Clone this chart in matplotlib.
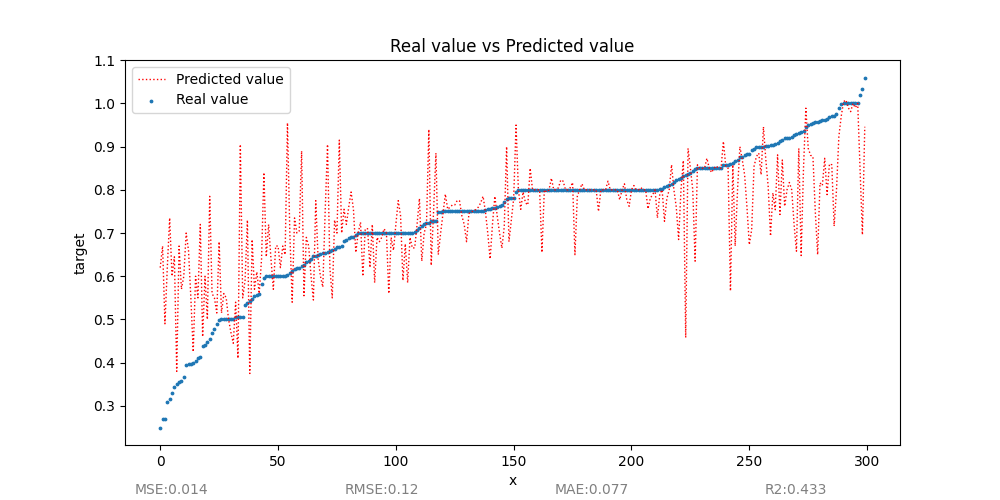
import numpy as np
import matplotlib
matplotlib.use('Agg')
import matplotlib.pyplot as plt

# valores reales (ordenados)
real_value = [
    0.25, 0.27, 0.27, 0.309, 0.316, 0.329, 0.343, 0.351, 0.355, 0.357,
    0.367, 0.394, 0.397, 0.398, 0.40, 0.405, 0.412, 0.413, 0.438, 0.44,
    0.449, 0.455, 0.468, 0.479, 0.489, 0.499, 0.50, 0.50, 0.50, 0.50,
    0.50, 0.50, 0.505, 0.505, 0.505, 0.505, 0.533, 0.538, 0.542, 0.548,
    0.555, 0.557, 0.558, 0.581, 0.597, 0.60, 0.60, 0.60, 0.60, 0.60,
    0.60, 0.60, 0.60, 0.60, 0.602, 0.608, 0.612, 0.616, 0.618, 0.62,
    0.624, 0.627, 0.632, 0.635, 0.641, 0.646, 0.648, 0.65, 0.652, 0.654,
    0.655, 0.656, 0.658, 0.66, 0.663, 0.667, 0.668, 0.67, 0.681, 0.685,
    0.689, 0.69, 0.691, 0.695, 0.70, 0.70, 0.70, 0.70, 0.70, 0.70,
    0.70, 0.70, 0.70, 0.70, 0.70, 0.70, 0.70, 0.70, 0.70, 0.70,
    0.70, 0.70, 0.70, 0.70, 0.70, 0.70, 0.70, 0.701, 0.703, 0.706,
    0.712, 0.716, 0.72, 0.723, 0.724, 0.727, 0.727, 0.728, 0.748, 0.749,
    0.75, 0.75, 0.75, 0.75, 0.75, 0.751, 0.752, 0.752, 0.752, 0.752,
    0.752, 0.752, 0.752, 0.752, 0.752, 0.752, 0.752, 0.752, 0.753, 0.755,
    0.756, 0.758, 0.759, 0.76, 0.762, 0.766, 0.773, 0.778, 0.781, 0.781,
    0.782, 0.796, 0.80, 0.80, 0.80, 0.80, 0.80, 0.80, 0.80, 0.80,
    0.80, 0.80, 0.80, 0.80, 0.80, 0.80, 0.80, 0.80, 0.80, 0.80,
    0.80, 0.80, 0.80, 0.80, 0.80, 0.80, 0.80, 0.80, 0.80, 0.80,
    0.80, 0.80, 0.80, 0.80, 0.80, 0.80, 0.80, 0.80, 0.80, 0.80,
    0.80, 0.80, 0.80, 0.80, 0.80, 0.80, 0.80, 0.80, 0.80, 0.80,
    0.80, 0.80, 0.80, 0.80, 0.80, 0.80, 0.80, 0.80, 0.80, 0.80,
    0.80, 0.80, 0.801, 0.803, 0.806, 0.808, 0.811, 0.814, 0.818, 0.822,
    0.825, 0.828, 0.831, 0.834, 0.837, 0.840, 0.843, 0.848, 0.85, 0.85,
    0.85, 0.85, 0.85, 0.85, 0.85, 0.85, 0.85, 0.85, 0.85, 0.857,
    0.858, 0.858, 0.859, 0.862, 0.866, 0.869, 0.875, 0.877, 0.881, 0.883,
    0.884, 0.893, 0.895, 0.899, 0.90, 0.90, 0.90, 0.901, 0.902, 0.903,
    0.904, 0.906, 0.909, 0.912, 0.916, 0.919, 0.919, 0.92, 0.923, 0.926,
    0.929, 0.931, 0.934, 0.937, 0.945, 0.949, 0.952, 0.955, 0.957, 0.958,
    0.959, 0.961, 0.962, 0.965, 0.968, 0.971, 0.972, 0.975, 0.989, 0.999,
    1.0, 1.0, 1.0, 1.0, 1.0, 1.0, 1.0, 1.019, 1.033, 1.06,
]

# valores predichos
predicted_value = [
    0.62, 0.67, 0.49, 0.62, 0.735, 0.60, 0.645, 0.38, 0.67, 0.57,
    0.60, 0.70, 0.66, 0.55, 0.425, 0.60, 0.55, 0.72, 0.46, 0.60,
    0.50, 0.785, 0.56, 0.55, 0.515, 0.68, 0.515, 0.56, 0.55, 0.50,
    0.47, 0.445, 0.54, 0.41, 0.905, 0.55, 0.59, 0.73, 0.375, 0.685,
    0.57, 0.61, 0.56, 0.64, 0.84, 0.645, 0.72, 0.64, 0.57, 0.67,
    0.67, 0.62, 0.67, 0.65, 0.955, 0.70, 0.54, 0.735, 0.70, 0.705,
    0.89, 0.555, 0.69, 0.67, 0.60, 0.545, 0.775, 0.64, 0.60, 0.575,
    0.75, 0.905, 0.62, 0.55, 0.73, 0.70, 0.915, 0.70, 0.755, 0.72,
    0.76, 0.795, 0.755, 0.655, 0.70, 0.725, 0.60, 0.71, 0.71, 0.62,
    0.72, 0.585, 0.69, 0.68, 0.69, 0.71, 0.70, 0.56, 0.69, 0.66,
    0.72, 0.775, 0.74, 0.59, 0.675, 0.585, 0.69, 0.665, 0.666, 0.72,
    0.78, 0.635, 0.70, 0.72, 0.94, 0.625, 0.75, 0.885, 0.65, 0.70,
    0.745, 0.79, 0.755, 0.76, 0.765, 0.765, 0.775, 0.775, 0.74, 0.72,
    0.68, 0.745, 0.75, 0.75, 0.755, 0.76, 0.77, 0.785, 0.75, 0.70,
    0.64, 0.72, 0.785, 0.74, 0.70, 0.665, 0.715, 0.90, 0.68, 0.73,
    0.78, 0.95, 0.80, 0.755, 0.795, 0.77, 0.765, 0.85, 0.80, 0.80,
    0.80, 0.80, 0.655, 0.80, 0.795, 0.80, 0.827, 0.80, 0.80, 0.805,
    0.823, 0.82, 0.80, 0.80, 0.805, 0.817, 0.65, 0.785, 0.80, 0.814,
    0.80, 0.80, 0.80, 0.80, 0.80, 0.80, 0.75, 0.80, 0.80, 0.80,
    0.82, 0.80, 0.80, 0.80, 0.80, 0.777, 0.80, 0.814, 0.777, 0.762,
    0.80, 0.81, 0.80, 0.80, 0.805, 0.80, 0.80, 0.756, 0.781, 0.789,
    0.80, 0.735, 0.79, 0.80, 0.727, 0.78, 0.80, 0.858, 0.80, 0.76,
    0.685, 0.80, 0.868, 0.458, 0.896, 0.85, 0.80, 0.635, 0.858, 0.85,
    0.85, 0.85, 0.873, 0.85, 0.84, 0.85, 0.855, 0.85, 0.85, 0.912,
    0.855, 0.85, 0.566, 0.858, 0.67, 0.80, 0.90, 0.87, 0.835, 0.76,
    0.673, 0.708, 0.854, 0.877, 0.885, 0.835, 0.946, 0.87, 0.808, 0.693,
    0.793, 0.754, 0.881, 0.743, 0.869, 0.762, 0.80, 0.817, 0.80, 0.72,
    0.658, 0.896, 0.648, 0.85, 0.989, 0.896, 0.88, 0.877, 0.75, 0.65,
    0.816, 0.81, 0.873, 0.789, 0.86, 0.858, 0.716, 0.80, 0.923, 0.97,
    1.004, 1.008, 0.99, 0.981, 1.0, 0.99, 1.0, 0.85, 0.696, 0.946,
]

metrics = ['MSE:0.014', 'RMSE:0.12', 'MAE:0.077', 'R2:0.433']

x = np.arange(len(real_value))

fig = plt.figure(figsize=(10, 5), dpi=100)
plt.plot(x, predicted_value, color='red', linestyle=':', linewidth=1, label='Predicted value')
plt.scatter(x, real_value, s=3, label='Real value')
plt.title('Real value vs Predicted value')
plt.xlabel('x')
plt.ylabel('target')
plt.legend(loc='upper left')

# métricas abajo
for k, txt in enumerate(metrics):
    fig.text(0.135 + 0.21 * k, 0.012, txt, color='grey', fontsize=10)

plt.savefig('out.png')
